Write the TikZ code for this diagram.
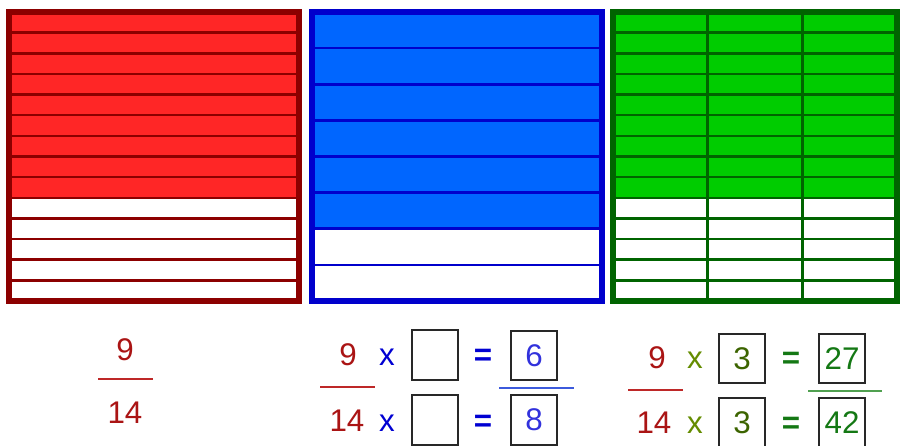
\documentclass[tikz,border=0pt]{standalone}
\usepackage{fontspec}
\setmainfont{Liberation Sans}
\definecolor{redfill}{RGB}{255,38,38}
\definecolor{reddark}{RGB}{140,0,0}
\definecolor{bluefill}{RGB}{0,102,255}
\definecolor{bluedark}{RGB}{0,0,204}
\definecolor{greenfill}{RGB}{0,204,0}
\definecolor{greendark}{RGB}{0,100,0}
\definecolor{numred}{RGB}{170,20,20}
\definecolor{opblue}{RGB}{0,0,210}
\definecolor{numblue}{RGB}{50,50,220}
\definecolor{barred}{RGB}{190,40,40}
\definecolor{barblue}{RGB}{60,90,220}
\definecolor{bargreen}{RGB}{80,160,80}
\definecolor{xgreen}{RGB}{100,140,0}
\definecolor{threegreen}{RGB}{60,100,0}
\definecolor{numgreen}{RGB}{20,120,20}
\definecolor{boxgray}{RGB}{40,40,40}
\begin{document}
\begin{tikzpicture}[x=0.75pt,y=-0.75pt]
  \tikzstyle{frame}=[line width=4pt]
  \tikzstyle{rowline}=[line width=1.9pt]
  \tikzstyle{txt}=[anchor=base, inner sep=0pt, font=\fontsize{23.5}{27}\selectfont]
  \tikzstyle{eq}=[txt, font=\fontsize{23.5}{27}\selectfont\bfseries]
  \tikzstyle{blank}=[draw=boxgray, line width=1.4pt, minimum width=34.5pt, minimum height=37pt,
    inner sep=0pt, font=\fontsize{23.5}{27}\selectfont]
  \tikzstyle{bar}=[line width=1.1pt]

  \useasboundingbox (0,0) rectangle (901,446);

  % red square, 9 of 14
  \fill[redfill] (9,12) rectangle (299,{12+9*20.643});
  \fill[white] (9,{12+9*20.643}) rectangle (299,301);
  \foreach \i in {1,...,13}
    \draw[rowline, reddark] (9,{12+\i*20.643}) -- (299,{12+\i*20.643});
  \draw[frame, reddark] (9,12) rectangle (299,301);

  % blue square, 6 of 8
  \fill[bluefill] (312,12) rectangle (602,{12+6*36.125});
  \fill[white] (312,{12+6*36.125}) rectangle (602,301);
  \foreach \i in {1,...,7}
    \draw[rowline, bluedark] (312,{12+\i*36.125}) -- (602,{12+\i*36.125});
  \draw[frame, bluedark] (312,12) rectangle (602,301);

  % green square, 27 of 42
  \fill[greenfill] (613,12) rectangle (897,{12+9*20.643});
  \fill[white] (613,{12+9*20.643}) rectangle (897,301);
  \foreach \i in {1,...,13}
    \draw[rowline, greendark] (613,{12+\i*20.643}) -- (897,{12+\i*20.643});
  \foreach \x in {707.7,802.3}
    \draw[rowline, greendark] (\x,12) -- (\x,301);
  \draw[frame, greendark] (613,12) rectangle (897,301);

  % first fraction
  \node[txt, numred] (rnum) at (125,360) {9};
  \node[txt, numred] (rden) at (125,423) {14};
  \draw[bar, barred] (98,379) -- (153,379);

  % second fraction
  \node[txt, numred] (bnum) at (348,365) {9};
  \node[txt, numred] (bden) at (347,431) {14};
  \draw[bar, barred] (320,387) -- (375,387);
  \node[txt, opblue] (bxa) at (387,365) {x};
  \node[txt, opblue] (bxb) at (387,431) {x};
  \node[blank] (bboxa) at (435,355) {};
  \node[blank] (bboxb) at (435,420) {};
  \node[eq, opblue] (beqa) at (483,365) {=};
  \node[eq, opblue] (beqb) at (483,431) {=};
  \node[blank, text=numblue] (bres) at (534,355.5) {6};
  \node[blank, text=numblue] (bden2) at (534,420) {8};
  \draw[bar, barblue] (499,388) -- (574,388);

  % third fraction
  \node[txt, numred] (gnum) at (657,368) {9};
  \node[txt, numred] (gden) at (654,433) {14};
  \draw[bar, barred] (628,390) -- (683,390);
  \node[txt, xgreen] (gxa) at (695,368) {x};
  \node[txt, xgreen] (gxb) at (695,433) {x};
  \node[blank, text=threegreen] (gboxa) at (742,358.5) {3};
  \node[blank, text=threegreen] (gboxb) at (742,422.5) {3};
  \node[eq, numgreen] (geqa) at (791,368) {=};
  \node[eq, numgreen] (geqb) at (791,433) {=};
  \node[blank, text=numgreen] (gres) at (842,358.5) {27};
  \node[blank, text=numgreen] (gden2) at (842,422.5) {42};
  \draw[bar, bargreen] (808,391) -- (882,391);
\end{tikzpicture}
\end{document}
